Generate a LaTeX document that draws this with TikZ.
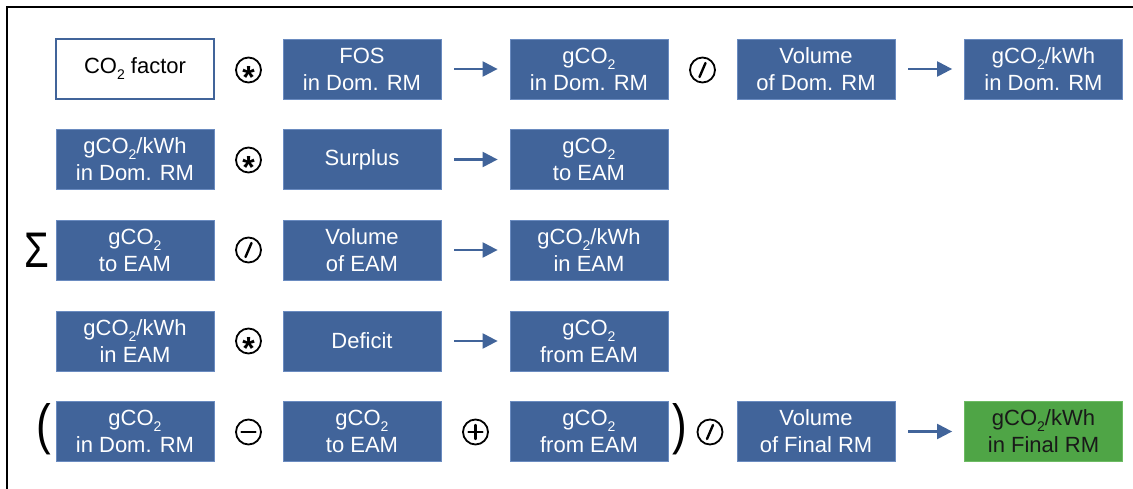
\documentclass[tikz,border=0pt]{standalone}
\usepackage{fontspec}
\setmainfont{Liberation Sans}
\usetikzlibrary{arrows.meta}
\definecolor{boxblue}{HTML}{41649A}
\definecolor{boxedge}{HTML}{6A8BC0}
\definecolor{boxgreen}{HTML}{4FA546}
\definecolor{greenedge}{HTML}{6DBB63}
\newcommand\subtwo{\raisebox{-6pt}{\fontsize{14}{14}\selectfont 2}}
\newcommand\astsym{{\fontsize{32}{32}\selectfont\bfseries\raisebox{-0.58em}[0pt][0pt]{*}}}
\tikzset{
  box/.style={rectangle, fill=boxblue, draw=boxedge, line width=0.8pt, minimum width=158pt, minimum height=60pt, inner sep=0pt, text=white, align=center, font=\fontsize{22}{27}\selectfont},
  whitebox/.style={box, fill=white, draw=boxblue, line width=1.6pt, text=black},
  greenbox/.style={box, fill=boxgreen, draw=greenedge, text=black!90},
  op/.style={circle, draw=black, line width=1.8pt, minimum size=25pt, inner sep=0pt},
  sym/.style={line width=2.4pt, black, line cap=round},
  arr/.style={-{Triangle[length=15pt,width=15pt]}, line width=2.2pt, boxblue, shorten <=13pt, shorten >=12pt},
  bigsym/.style={inner sep=0pt, text=black},
}
\begin{document}
\begin{tikzpicture}[x=1pt,y=-1pt]
\useasboundingbox (0,0) rectangle (1133,489);
\fill[white] (0,0) rectangle (1133,489);
\draw[line width=2pt] (7,489) -- (7,7) -- (1133,7);

% Row 1
\node[whitebox] (r1a) at (135,69) {CO\subtwo{} factor};
\node[op] (r1m) at (248.5,70) {\astsym};
\node[box] (r1b) at (362,69) {FOS\\in Dom. RM};
\node[box] (r1c) at (589,69) {gCO\subtwo\\in Dom. RM};
\node[op] (r1d) at (702.5,70) {};
\node[box] (r1e) at (816,69) {Volume\\of Dom. RM};
\node[box] (r1f) at (1043.5,69) {gCO\subtwo/kWh\\in Dom. RM};
\draw[arr] (r1b.east) -- (r1c.west);
\draw[arr] (r1e.east) -- (r1f.west);
\draw[sym] ([shift={(-3,7)}]r1d.center) -- ([shift={(3,-7)}]r1d.center);

% Row 2
\node[box] (r2a) at (135,159.5) {gCO\subtwo/kWh\\in Dom. RM};
\node[op] (r2m) at (248.5,160) {\astsym};
\node[box] (r2b) at (362,159.5) {Surplus};
\node[box] (r2c) at (589,159.5) {gCO\subtwo\\to EAM};
\draw[arr] (r2b.east) -- (r2c.west);

% Row 3
\node[bigsym] (sig) at (37,250) {\fontsize{50}{50}\selectfont\scalebox{0.8}[1]{Σ}};
\node[box] (r3a) at (135,250) {gCO\subtwo\\to EAM};
\node[op] (r3d) at (248.5,250) {};
\node[box] (r3b) at (362,250) {Volume\\of EAM};
\node[box] (r3c) at (589,250) {gCO\subtwo/kWh\\in EAM};
\draw[arr] (r3b.east) -- (r3c.west);
\draw[sym] ([shift={(-3,7)}]r3d.center) -- ([shift={(3,-7)}]r3d.center);

% Row 4
\node[box] (r4a) at (135,341) {gCO\subtwo/kWh\\in EAM};
\node[op] (r4m) at (248.5,341) {\astsym};
\node[box] (r4b) at (362,341) {Deficit};
\node[box] (r4c) at (589,341) {gCO\subtwo\\from EAM};
\draw[arr] (r4b.east) -- (r4c.west);

% Row 5
\node[bigsym] (lp) at (44,429) {\fontsize{40}{40}\selectfont\scalebox{1.1}[1.38]{(}};
\node[box] (r5a) at (135,431.5) {gCO\subtwo\\in Dom. RM};
\node[op] (r5m) at (248.5,432) {};
\node[box] (r5b) at (362,431.5) {gCO\subtwo\\to EAM};
\node[op] (r5p) at (475.5,432) {};
\node[box] (r5c) at (589,431.5) {gCO\subtwo\\from EAM};
\node[bigsym] (rp) at (680,429) {\fontsize{40}{40}\selectfont\scalebox{1.1}[1.38]{)}};
\node[op] (r5d) at (710,432) {};
\node[box] (r5e) at (816,431.5) {Volume\\of Final RM};
\node[greenbox] (r5f) at (1043.5,431.5) {gCO\subtwo/kWh\\in Final RM};
\draw[arr] (r5e.east) -- (r5f.west);
\draw[sym] ([shift={(-7,0)}]r5m.center) -- ([shift={(7,0)}]r5m.center);
\draw[sym] ([shift={(-7,0)}]r5p.center) -- ([shift={(7,0)}]r5p.center);
\draw[sym] ([shift={(0,-7)}]r5p.center) -- ([shift={(0,7)}]r5p.center);
\draw[sym] ([shift={(-3,7)}]r5d.center) -- ([shift={(3,-7)}]r5d.center);
\end{tikzpicture}
\end{document}
